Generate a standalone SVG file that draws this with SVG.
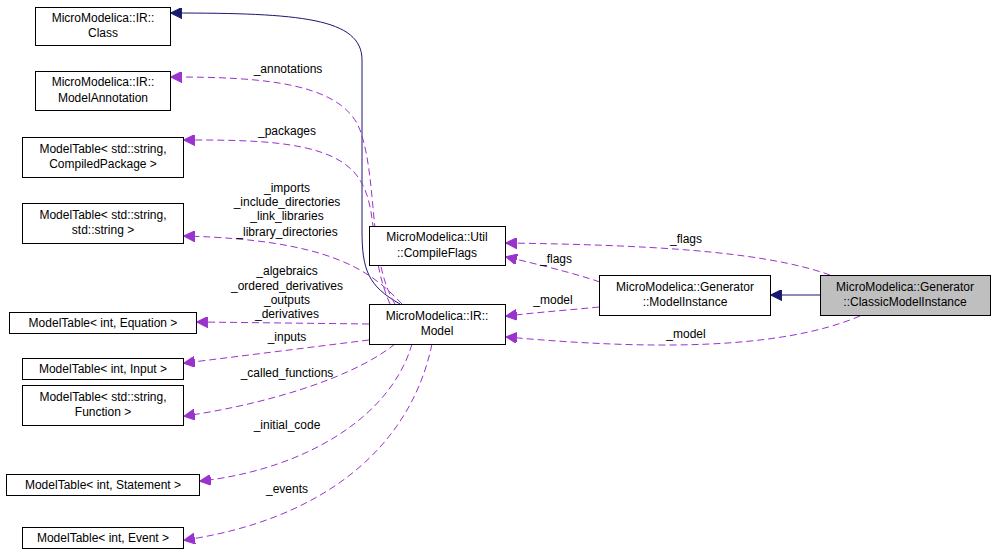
<svg xmlns="http://www.w3.org/2000/svg" width="996" height="557" viewBox="0 0 996 557">
<style>
text{font-family:"Liberation Sans",Arial,sans-serif;font-size:12px;fill:#000;text-anchor:middle}
.n rect{fill:#fff;stroke:#000;stroke-width:1}
.d{fill:none;stroke:#9a32cd;stroke-dasharray:7,4;stroke-width:1}
.s{fill:none;stroke:#191970;stroke-width:1}
</style>
<defs>
<marker id="p" viewBox="0 0 10 10" refX="9" refY="5" markerWidth="11" markerHeight="11" orient="auto" markerUnits="userSpaceOnUse"><path d="M10,5L0,0L0,10z" fill="#9a32cd" stroke="#9a32cd"/></marker>
<marker id="b" viewBox="0 0 10 10" refX="9" refY="5" markerWidth="11" markerHeight="11" orient="auto" markerUnits="userSpaceOnUse"><path d="M10,5L0,0L0,10z" fill="#191970" stroke="#191970"/></marker>
</defs>
<rect width="996" height="557" fill="#fff"/>
<g id="connectors">
<path class="s" marker-end="url(#b)" d="M400,304 C368,286 362,270 362,230 L362,60 C362,18 300,13 172,13"/>
<path class="d" marker-end="url(#p)" d="M395,304 C368,260 378,180 360,130 C342,82 260,77 172,77"/>
<text x="288" y="73">_annotations</text>
<path class="d" marker-end="url(#p)" d="M390,304 C366,250 382,200 352,170 C322,140 250,140 185,140"/>
<text x="287" y="135">_packages</text>
<path class="d" marker-end="url(#p)" d="M402,304 C370,270 330,240 185,236"/>
<text x="287" y="192">_imports</text><text x="287" y="206">_include_directories</text><text x="287" y="220">_link_libraries</text><text x="287" y="236">_library_directories</text>
<path class="d" marker-end="url(#p)" d="M369,324 L198,322"/>
<text x="287" y="275">_algebraics</text><text x="287" y="290">_ordered_derivatives</text><text x="287" y="304">_outputs</text><text x="287" y="318">_derivatives</text>
<path class="d" marker-end="url(#p)" d="M369,340 L185,363"/>
<text x="287" y="341">_inputs</text>
<path class="d" marker-end="url(#p)" d="M395,344 C350,380 260,405 185,416"/>
<text x="287" y="377">_called_functions</text>
<path class="d" marker-end="url(#p)" d="M412,344 C390,420 300,470 201,481"/>
<text x="287" y="429">_initial_code</text>
<path class="d" marker-end="url(#p)" d="M432,344 C410,450 320,520 185,540"/>
<text x="287" y="493">_events</text>
<path class="d" marker-end="url(#p)" d="M600,282 C570,272 540,265 507,257"/>
<text x="556" y="263">_flags</text>
<path class="d" marker-end="url(#p)" d="M599,307 C570,310 540,312 507,316"/>
<text x="553" y="304">_model</text>
<path class="d" marker-end="url(#p)" d="M830,275 C760,250 640,245 507,243"/>
<text x="686" y="243">_flags</text>
<path class="d" marker-end="url(#p)" d="M860,316 C780,350 650,350 507,337"/>
<text x="686" y="338">_model</text>
<path class="s" marker-end="url(#b)" d="M820,295 L772,295"/>
</g>
<g id="class" class="n"><rect x="35.5" y="7.5" width="135" height="38"/><text x="103" y="22">MicroModelica::IR::</text><text x="103" y="37">Class</text></g>
<g id="annotation" class="n"><rect x="35.5" y="71.5" width="135" height="39"/><text x="103" y="86">MicroModelica::IR::</text><text x="103" y="102">ModelAnnotation</text></g>
<g id="mt_pkg" class="n"><rect x="22.5" y="137.5" width="161" height="40"/><text x="103" y="153">ModelTable&lt; std::string,</text><text x="103" y="168">CompiledPackage &gt;</text></g>
<g id="mt_str" class="n"><rect x="22.5" y="203.5" width="161" height="40"/><text x="103" y="219">ModelTable&lt; std::string,</text><text x="103" y="234">std::string &gt;</text></g>
<g id="mt_eq" class="n"><rect x="9.5" y="312.5" width="187" height="21"/><text x="103" y="327">ModelTable&lt; int, Equation &gt;</text></g>
<g id="mt_in" class="n"><rect x="22.5" y="358.5" width="161" height="21"/><text x="103" y="373">ModelTable&lt; int, Input &gt;</text></g>
<g id="mt_fn" class="n"><rect x="22.5" y="385.5" width="161" height="40"/><text x="103" y="401">ModelTable&lt; std::string,</text><text x="103" y="416">Function &gt;</text></g>
<g id="mt_st" class="n"><rect x="6.5" y="474.5" width="193" height="21"/><text x="103" y="489">ModelTable&lt; int, Statement &gt;</text></g>
<g id="mt_ev" class="n"><rect x="22.5" y="527.5" width="161" height="21"/><text x="103" y="542">ModelTable&lt; int, Event &gt;</text></g>
<g id="flags" class="n"><rect x="369.5" y="226.5" width="136" height="39"/><text x="437" y="241">MicroModelica::Util</text><text x="437" y="257">::CompileFlags</text></g>
<g id="model" class="n"><rect x="369.5" y="304.5" width="136" height="40"/><text x="437" y="320">MicroModelica::IR::</text><text x="437" y="335">Model</text></g>
<g id="modelinstance" class="n"><rect x="599.5" y="275.5" width="171" height="40"/><text x="685" y="291">MicroModelica::Generator</text><text x="685" y="306">::ModelInstance</text></g>
<g id="classic"><rect x="820.5" y="275.5" width="170" height="40" fill="#bfbfbf" stroke="#000"/><text x="905" y="291">MicroModelica::Generator</text><text x="905" y="306">::ClassicModelInstance</text></g>
</svg>
